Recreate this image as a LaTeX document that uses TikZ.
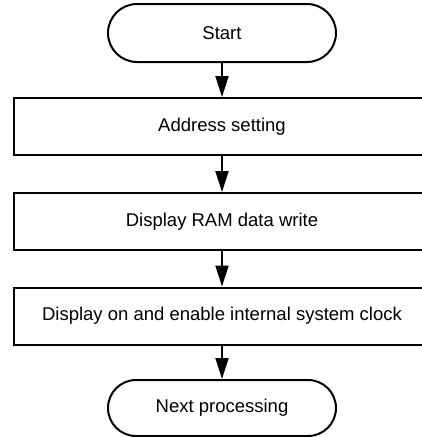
\documentclass[tikz,border=0pt]{standalone}
\usepackage{fontspec}
\setmainfont{Liberation Sans}
\usetikzlibrary{arrows.meta,shapes.misc}
\tikzset{
  term/.style={rounded rectangle, draw, line width=2pt, minimum width=228pt, minimum height=58pt, inner sep=0pt},
  proc/.style={rectangle, draw, line width=2pt, minimum width=416pt, minimum height=57pt, inner sep=0pt},
  flow/.style={line width=2pt, -{Triangle[length=21pt,width=13pt]}}
}
\begin{document}
\begin{tikzpicture}[x=1pt,y=1pt,font=\fontsize{18.5}{22}\selectfont]
\path[use as bounding box, clip] (0,0) rectangle (422,-437);
\node[term] (start) at (222,-33){Start};
\node[proc] (addr) at (222,-126.5){Address setting};
\node[proc] (ramw) at (222,-221.5){Display RAM data write};
\node[proc] (dispon) at (222,-316){Display on and enable internal system clock};
\node[term, minimum height=56pt] (next) at (222,-408){Next processing};
\draw[flow](start) -- (addr);
\draw[flow](addr) -- (ramw);
\draw[flow](ramw) -- (dispon);
\draw[flow](dispon) -- (next);
\end{tikzpicture}
\end{document}
